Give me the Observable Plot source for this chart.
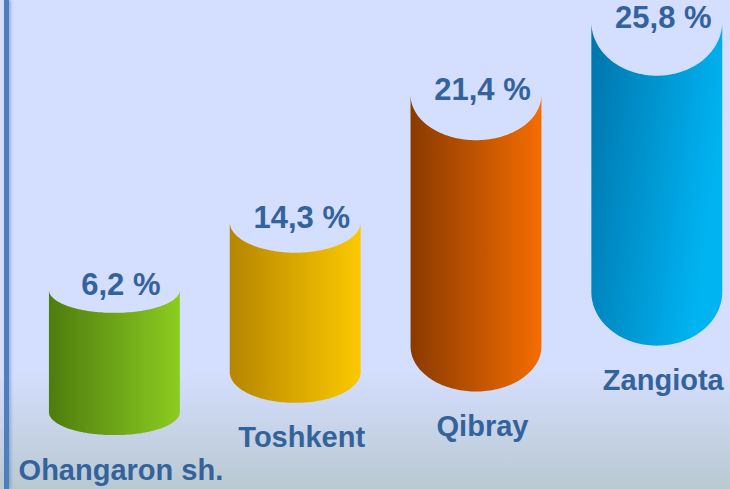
<!DOCTYPE html>
<html>
<head>
<meta charset="utf-8">
<script src="https://cdn.jsdelivr.net/npm/d3@7"></script>
<script src="https://cdn.jsdelivr.net/npm/@observablehq/plot@0.6"></script>
<style>
  html, body { margin: 0; padding: 0; }
  body {
    width: 730px; height: 489px; overflow: hidden; position: relative;
    background: linear-gradient(to bottom, #d4defe 0%, #d4defe 76%, #b9c9d1 100%);
  }
  #edge {
    position: absolute; left: 4px; top: 0; width: 5px; height: 489px;
    background: #4b80bf; box-shadow: 2px 0 3px rgba(70, 95, 160, 0.35);
  }
  #chart { position: absolute; left: 0; top: 0; }
</style>
</head>
<body>
<div id="edge"></div>
<div id="chart"></div>
<script>
// ---- data ----
const categories = ["Ohangaron sh.", "Toshkent", "Qibray", "Zangiota"];
const shares = [6.2, 14.3, 21.4, 25.8];
// apparent top and floor heights of each cylinder on the chart's 0–100 height scale
const topLevel = [40.7, 54.6, 80.6, 95.5];
const floorLevel = [15.7, 23.9, 29.2, 40.3];

// ---- styles ----
const palette = [
  ["#4e7c0e", "#8ccc20"],
  ["#b58600", "#fcc900"],
  ["#8a3a00", "#f56d00"],
  ["#0074ab", "#00b4f2"]
];
const textColor = "#34639b";
const font = "'Liberation Sans', Arial, sans-serif";

const halfWidth = 0.362;          // cylinder half width in x units
const depthOf = (t) => 0.115 * t; // perspective depth of the end ellipses

const N = 90;
const shapes = categories.map((c, i) => {
  const depth = depthOf(topLevel[i]);
  return d3.range(N + 1).map(k => {
    const a = Math.PI * k / N;
    const u = -Math.cos(a), s = Math.sin(a);
    return {
      cat: c,
      x: i + halfWidth * u,
      y1: floorLevel[i] - depth * s,
      y2: topLevel[i] - depth * s
    };
  });
});

const valueLabels = categories.map((c, i) => ({
  x: i, y: topLevel[i], text: String(shares[i]).replace(".", ",") + " %"
}));
const catLabels = categories.map((c, i) => ({
  x: i, y: floorLevel[i] - depthOf(topLevel[i]), text: c
}));

const gradients = () => {
  const ns = "http://www.w3.org/2000/svg";
  const defs = document.createElementNS(ns, "defs");
  palette.forEach(([a, b], i) => {
    const g = document.createElementNS(ns, "linearGradient");
    g.setAttribute("id", "cyl" + i);
    g.setAttribute("x1", "0"); g.setAttribute("y1", "0");
    g.setAttribute("x2", "1"); g.setAttribute("y2", i === 3 ? "0.35" : "0");
    [[0, a], [1, b]].forEach(([o, col]) => {
      const s = document.createElementNS(ns, "stop");
      s.setAttribute("offset", o);
      s.setAttribute("stop-color", col);
      g.appendChild(s);
    });
    defs.appendChild(g);
  });
  return defs;
};

const chart = Plot.plot({
  width: 730,
  height: 489,
  margin: 0,
  x: { type: "linear", domain: [-0.6327, 3.4049], axis: null },
  y: { domain: [0, 100], axis: null },
  style: { background: "transparent", overflow: "visible", fontFamily: font },
  marks: [
    gradients,
    ...shapes.map((d, i) => Plot.areaY(d, {
      x: "x", y1: "y1", y2: "y2", fill: `url(#cyl${i})`, curve: "linear"
    })),
    Plot.text(valueLabels, {
      x: "x", y: "y", text: "text", lineAnchor: "bottom", dx: 6, dy: 5,
      fontSize: 31, fontWeight: "bold", fill: textColor, fontFamily: font
    }),
    Plot.text(catLabels, {
      x: "x", y: "y", text: "text", lineAnchor: "bottom", dx: 6, dy: 44,
      fontSize: 29, fontWeight: "bold", fill: textColor, fontFamily: font
    })
  ]
});
document.getElementById("chart").appendChild(chart);
</script>
</body>
</html>
